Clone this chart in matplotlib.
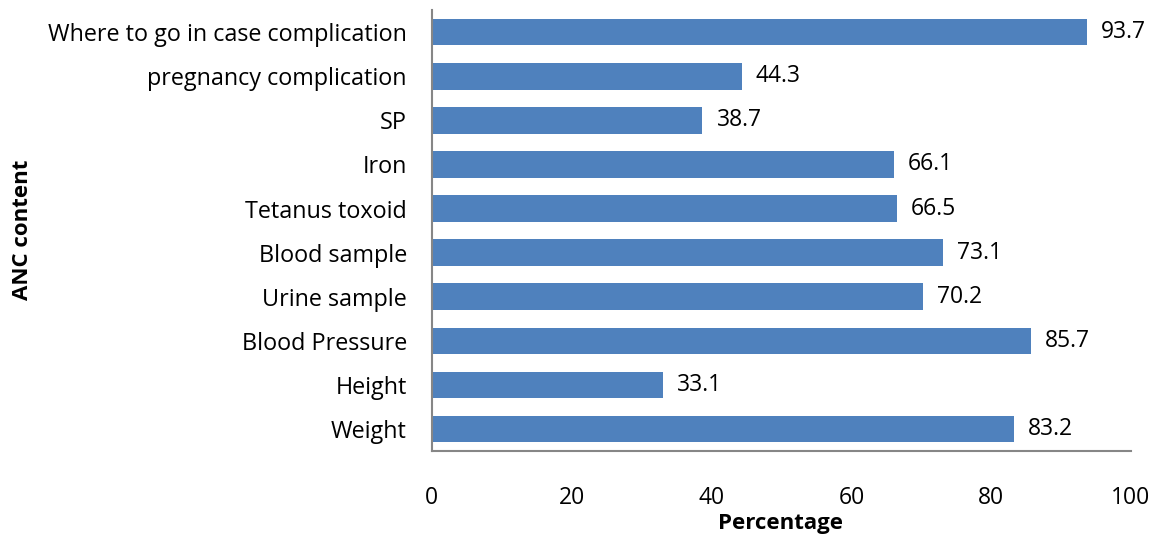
import matplotlib
matplotlib.use("Agg")
import matplotlib.pyplot as plt

categories = ["Weight", "Height", "Blood Pressure", "Urine sample", "Blood sample",
              "Tetanus toxoid", "Iron", "SP", "pregnancy complication",
              "Where to go in case complication"]
values = [83.2, 33.1, 85.7, 70.2, 73.1, 66.5, 66.1, 38.7, 44.3, 93.7]
xticks = [0, 20, 40, 60, 80, 100]

plt.rcParams['font.family'] = ['Open Sans', 'DejaVu Sans']
FS = 16

fig = plt.figure(figsize=(11.58, 5.35), dpi=100)
ax = fig.add_axes([0.373, 0.157, 0.6037, 0.824])
y = list(range(len(categories)))
ax.barh(y, values, height=0.6, color="#4F81BD")
for yi, v in zip(y, values):
    ax.text(v + 2.0, yi, f"{v}", va="center", ha="left", fontsize=16.5, color="black")
ax.set_xlim(0, 100)
ax.set_ylim(-0.5, len(categories) - 0.5)
ax.set_yticks(y)
ax.set_yticklabels(categories, fontsize=16.8)
ax.set_xticks(xticks)
ax.set_xticklabels([str(t) for t in xticks], fontsize=16.5)
ax.tick_params(axis='both', length=0)
ax.tick_params(axis='x', pad=25)
ax.tick_params(axis='y', pad=18)
for s in ["top", "right"]:
    ax.spines[s].set_visible(False)
for s in ["left", "bottom"]:
    ax.spines[s].set_color("#868686")
    ax.spines[s].set_linewidth(1.5)
fig.text(0.6736, 1 - 523 / 535, "Percentage", fontsize=FS, fontweight="bold",
         ha="center", va="center")
fig.text(0.019, 1 - 230 / 535, "ANC content", rotation=90, fontsize=FS, fontweight="bold",
         ha="center", va="center")
fig.savefig("out.png", dpi=100)
